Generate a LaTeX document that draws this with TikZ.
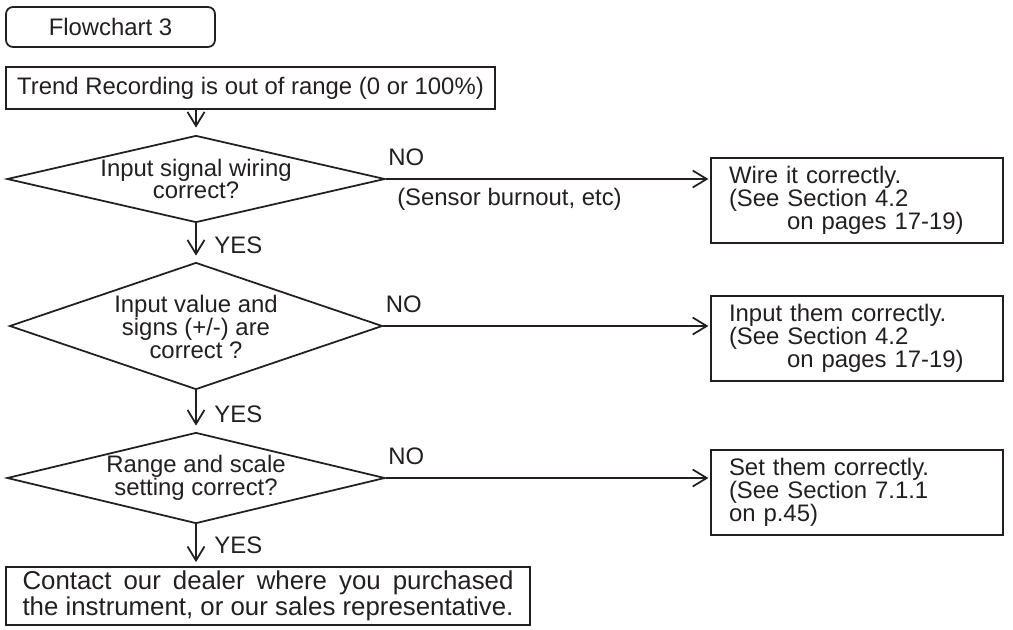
\documentclass[tikz,border=0pt]{standalone}
\usepackage{fontspec}
\setmainfont{Liberation Sans}
\usepackage{calc}
\usepackage{xcolor}
\usepackage{tikz}
\usetikzlibrary{positioning}
\usetikzlibrary{arrows.meta}
\usetikzlibrary{shapes}

\definecolor{ink}{HTML}{231F20}

\tikzset{
    box/.style={draw=ink, line width=1pt, inner sep=0pt},
    decision/.style={draw=ink, line width=1pt, diamond, inner sep=0pt},
    note/.style={box, minimum width=5.84cm, minimum height=1.7cm, text width=5.12cm, align=left},
    arr/.style={draw=ink, line width=1pt, -{Straight Barb[length=2.8mm, width=3.4mm, line width=1pt]}},
    yeslabel/.style={right, pos=0.58, inner sep=0pt, xshift=10pt},
    nolabel/.style={anchor=base west, pos=0, inner sep=0pt, xshift=1pt, yshift=7.5pt},
}

\begin{document}
\begin{tikzpicture}[x=0.02cm, y=-0.02cm, font=\fontsize{13.6}{13}\selectfont, text=ink]
    \useasboundingbox (0,0) rectangle (1013,629);

    \node[box, rounded corners=4pt, minimum width=4.18cm, minimum height=0.8cm] (title) at (110.5,27) {Flowchart 3};
    \node[box, minimum width=9.78cm, minimum height=0.84cm] (trend) at (250.5,88) {Trend Recording is out of range (0 or 100\%)};

    \node[decision, minimum width=7.56cm, minimum height=1.74cm] (d1) at (196,179) {};
    \node[align=center, inner sep=0pt] (d1text) at (196,179) {Input signal wiring\\correct?};
    \node[decision, minimum width=7.46cm, minimum height=2.54cm] (d2) at (196,326) {};
    \node[align=center, inner sep=0pt] (d2text) at (196,327) {Input value and\\signs (+/-) are\\correct ?};
    \node[decision, minimum width=7.56cm, minimum height=1.82cm] (d3) at (196,478) {};
    \node[align=center, inner sep=0pt] (d3text) at (196,478) {Range and scale\\setting correct?};

    \node[note] (wire) at (857,200.5) {Wire it correctly.\\(See Section 4.2\\\hspace*{33pt}on pages 17-19)};
    \node[note] (input) at (857,338.5) {Input them correctly.\\(See Section 4.2\\\hspace*{33pt}on pages 17-19)};
    \node[note] (set) at (857,492.5) {Set them correctly.\\(See Section 7.1.1\\on p.45)};

    \node[box, minimum width=10.48cm, minimum height=1.16cm, align=left, font=\fontsize{14.7}{13.4}\selectfont] (dealer) at (268,596)
        {\makebox[\widthof{the instrument, or our sales representative.}][s]{Contact our dealer where you purchased}\\the instrument, or our sales representative.};

    % main line
    \draw[arr, shorten >=0.14cm] (d1.north |- trend.south) -- (d1.north);
    \draw[arr, shorten >=0.12cm] (d1.south) -- (d2.north) node[yeslabel] {YES};
    \draw[arr, shorten >=0.12cm] (d2.south) -- (d3.north) node[yeslabel] {YES};
    \draw[arr, shorten >=0.08cm] (d3.south) -- (d3.south |- dealer.north) node[yeslabel, pos=0.5] {YES};

    % NO branches
    \draw[arr, shorten >=1pt] (d1.east) -- (d1.east -| wire.west)
        node[nolabel] {NO}
        node[anchor=base west, pos=0, inner sep=0pt, xshift=6pt, yshift=-14.8pt] {(Sensor burnout, etc)};
    \draw[arr, shorten >=1pt] (d2.east) -- (d2.east -| input.west) node[nolabel] {NO};
    \draw[arr, shorten >=1pt] (d3.east) -- (d3.east -| set.west) node[nolabel] {NO};
\end{tikzpicture}
\end{document}
